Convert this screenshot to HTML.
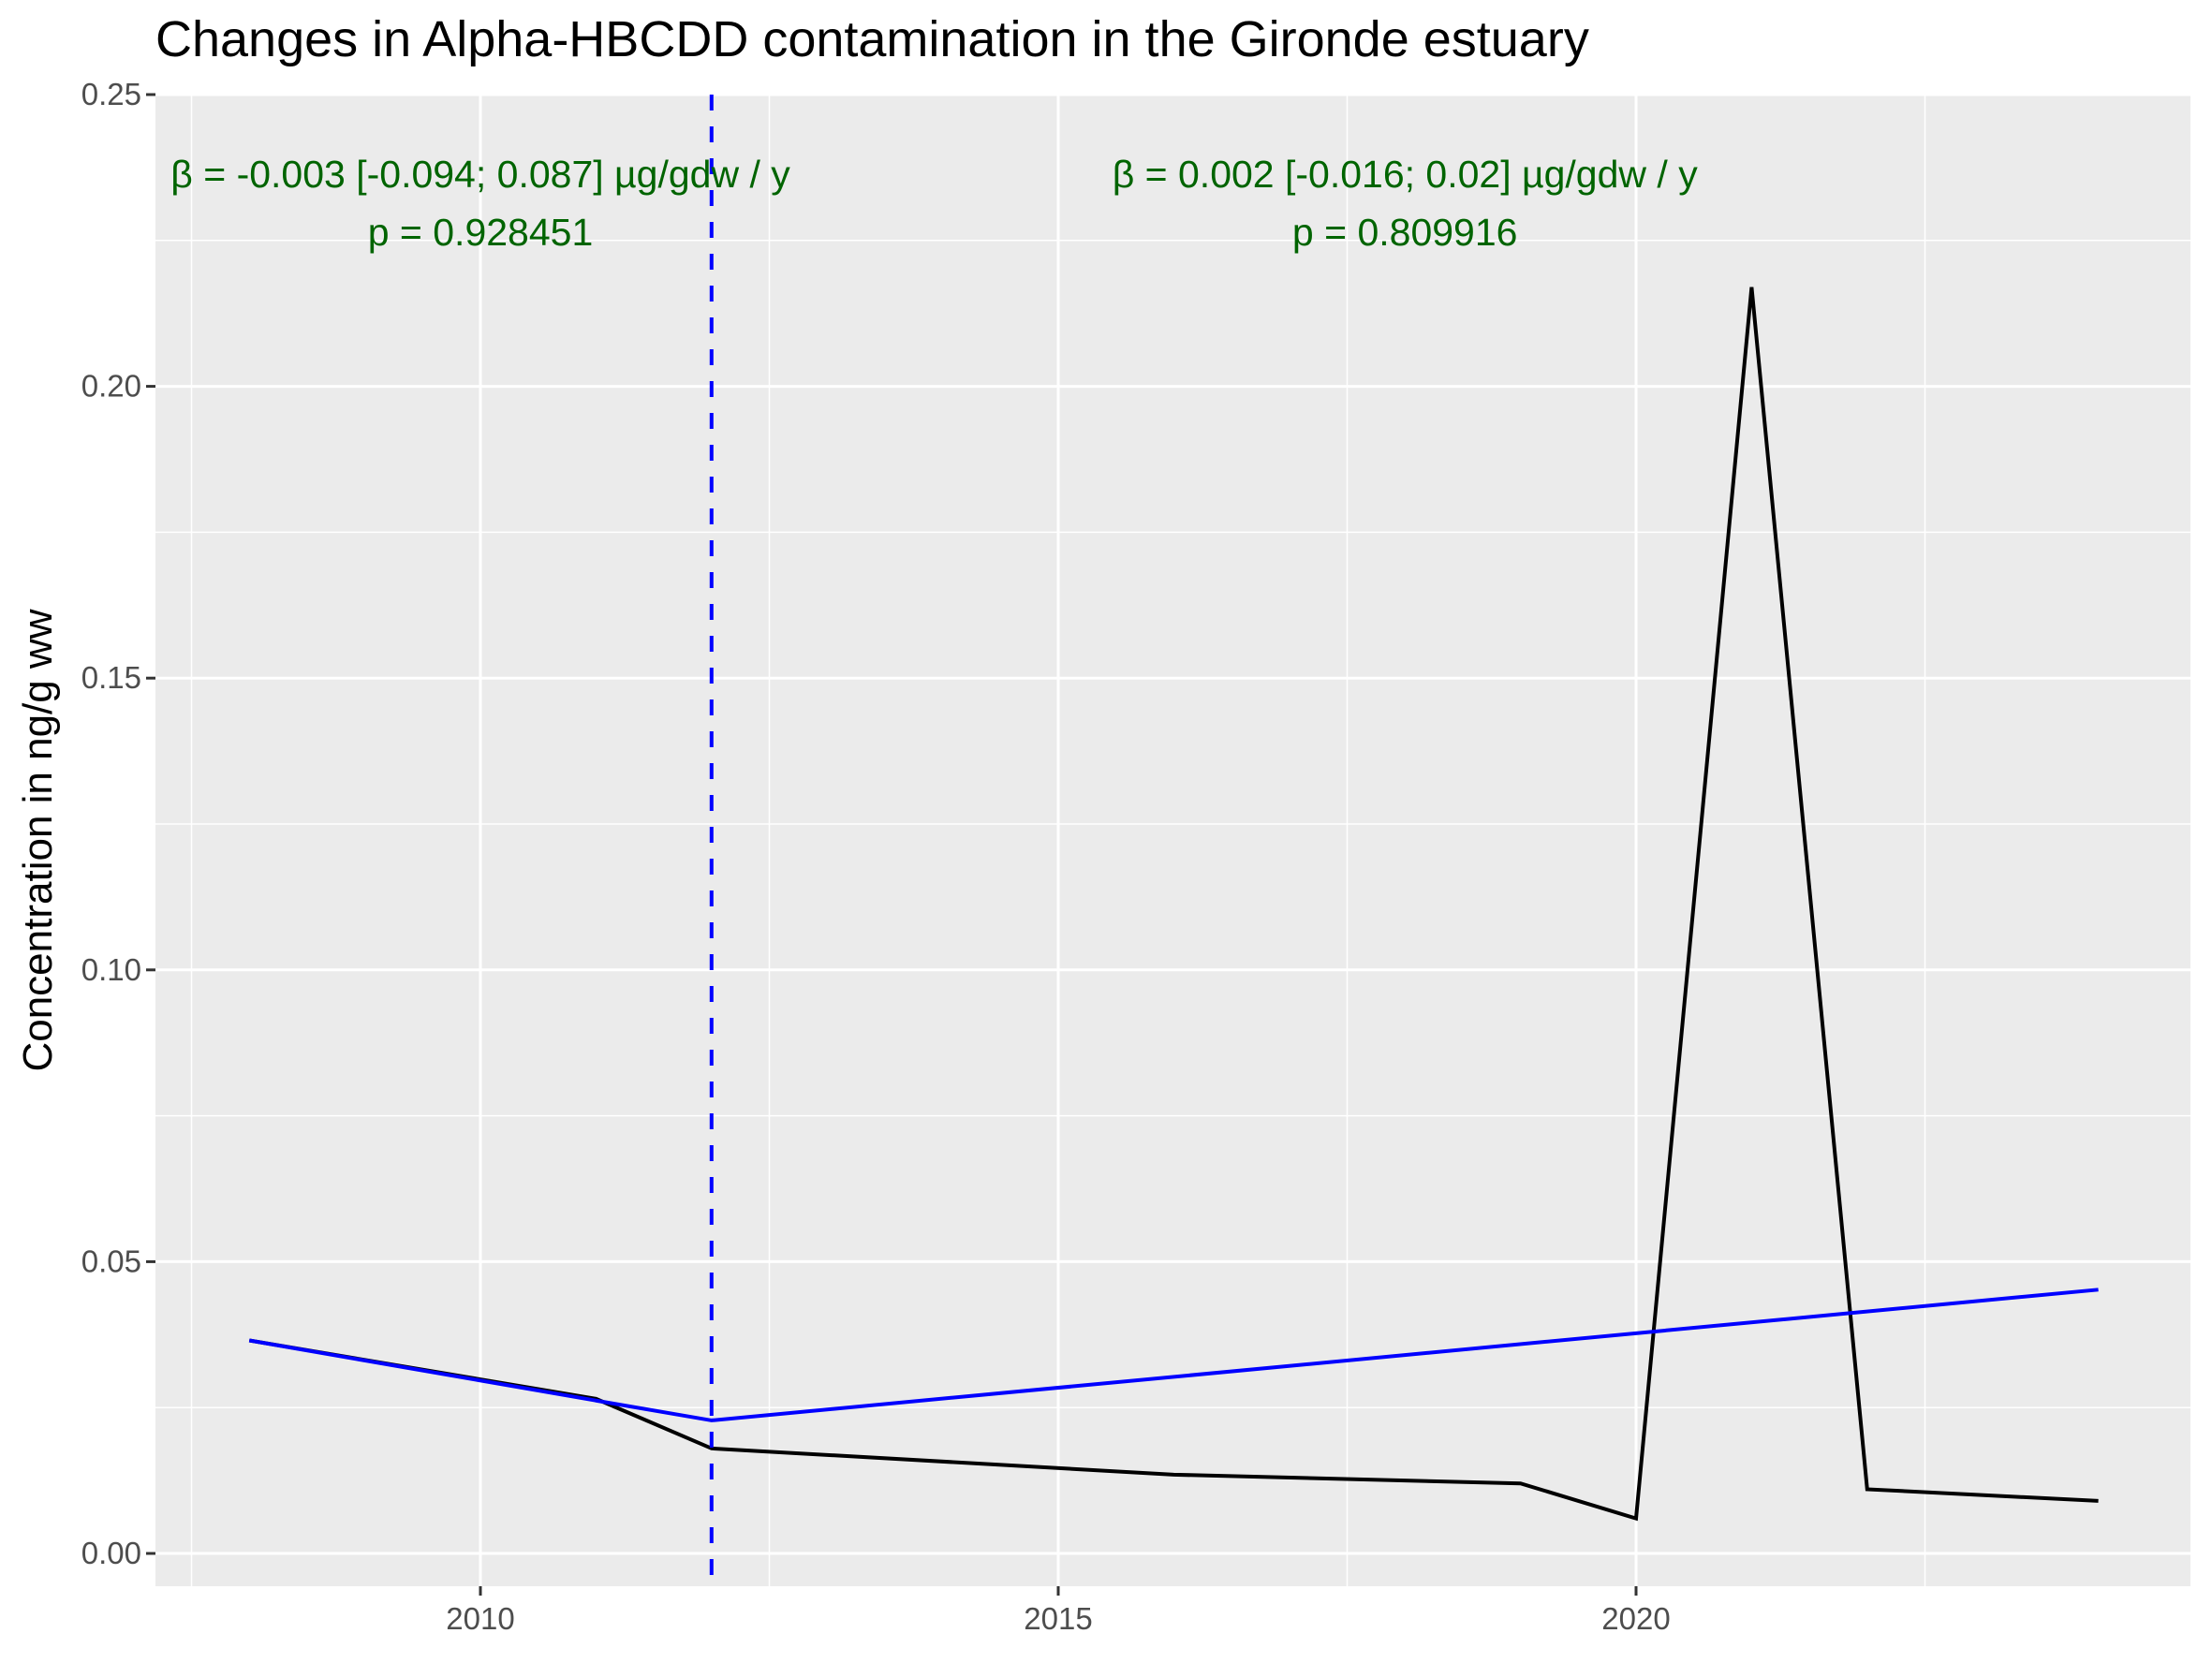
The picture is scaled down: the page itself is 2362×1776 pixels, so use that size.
<!DOCTYPE html>
<html><head><meta charset="utf-8"><style>
body{margin:0;background:#fff}
svg text{font-family:"Liberation Sans",Arial,sans-serif}
</style></head><body>
<svg id="c" width="2362" height="1771" xmlns="http://www.w3.org/2000/svg"></svg>
<script>
const years=[2008,2011,2012,2016,2019,2020,2021,2022,2024];
const conc=[0.0365,0.0265,0.018,0.0135,0.012,0.006,0.217,0.011,0.009];
const fitYears=[2008,2011,2012,2024];
const fitVals=[0.0365,0.0262,0.0228,0.0452];
const xTicks=[2010,2015,2020];
const yTicks=[0,0.05,0.10,0.15,0.20,0.25];
const yLabels=["0.00","0.05","0.10","0.15","0.20","0.25"];
const breakYear=2012;
const annot=[{x:2010,l1:"β = -0.003 [-0.094; 0.087] µg/gdw / y",l2:"p = 0.928451"},{x:2018,l1:"β = 0.002 [-0.016; 0.02] µg/gdw / y",l2:"p = 0.809916"}];
const NS="http://www.w3.org/2000/svg";
const svg=document.getElementById('c');
const L=166,R=2339,T=101,B=1694;
const X=v=>513+(v-2010)*123.4;
const Y=v=>1659-v*6232;
function el(t,a,p){const e=document.createElementNS(NS,t);for(const k in a)e.setAttribute(k,a[k]);(p||svg).appendChild(e);return e;}
const panel=el('rect',{x:L,y:T,width:R-L,height:B-T,fill:'#ebebeb'});


for(let v=0.025;v<0.25;v+=0.05){const g=el('line',{x1:L,x2:R,y1:Y(v),y2:Y(v),stroke:'#fff','stroke-width':1.5});

}
for(const v of [2007.5,2012.5,2017.5,2022.5]){const g=el('line',{x1:X(v),x2:X(v),y1:T,y2:B,stroke:'#fff','stroke-width':1.5});

}
yTicks.forEach((v,i)=>{const g=el('line',{x1:L,x2:R,y1:Y(v),y2:Y(v),stroke:'#fff','stroke-width':3});


const tk=el('line',{x1:L-10,x2:L,y1:Y(v),y2:Y(v),stroke:'#333','stroke-width':3});


const t=el('text',{x:L-15,y:Y(v)+11,'text-anchor':'end','font-size':33,fill:'#4d4d4d'});t.textContent=yLabels[i];

});
xTicks.forEach(v=>{const g=el('line',{x1:X(v),x2:X(v),y1:T,y2:B,stroke:'#fff','stroke-width':3});


const tk=el('line',{x1:X(v),x2:X(v),y1:B,y2:B+10,stroke:'#333','stroke-width':3});


const t=el('text',{x:X(v),y:B+46,'text-anchor':'middle','font-size':33,fill:'#4d4d4d'});t.textContent=v;

});
const d=years.map((y,i)=>(i?'L':'M')+X(y)+','+Y(conc[i])).join(' ');
const ln=el('path',{d:d,fill:'none',stroke:'#000','stroke-width':4,'stroke-linejoin':'miter'});


const d2=fitYears.map((y,i)=>(i?'L':'M')+X(y)+','+Y(fitVals[i])).join(' ');
const fl=el('path',{d:d2,fill:'none',stroke:'#0000ff','stroke-width':4});


const vl=el('line',{x1:X(breakYear),x2:X(breakYear),y1:T,y2:B,stroke:'#0000ff','stroke-width':4,'stroke-dasharray':'17,17'});


annot.forEach(a=>{const t1=el('text',{x:X(a.x),y:200,'text-anchor':'middle','font-size':41,fill:'#006400'});t1.textContent=a.l1;


const t2=el('text',{x:X(a.x),y:262,'text-anchor':'middle','font-size':41,fill:'#006400'});t2.textContent=a.l2;

});
const ti=el('text',{x:166,y:60,'font-size':54,fill:'#000'});ti.textContent='Changes in Alpha-HBCDD contamination in the Gironde estuary';


const yt=el('text',{x:0,y:0,'text-anchor':'middle','font-size':44,fill:'#000',transform:'translate(55,'+((T+B)/2)+') rotate(-90)'});yt.textContent='Concentration in ng/g ww';


</script></body></html>
